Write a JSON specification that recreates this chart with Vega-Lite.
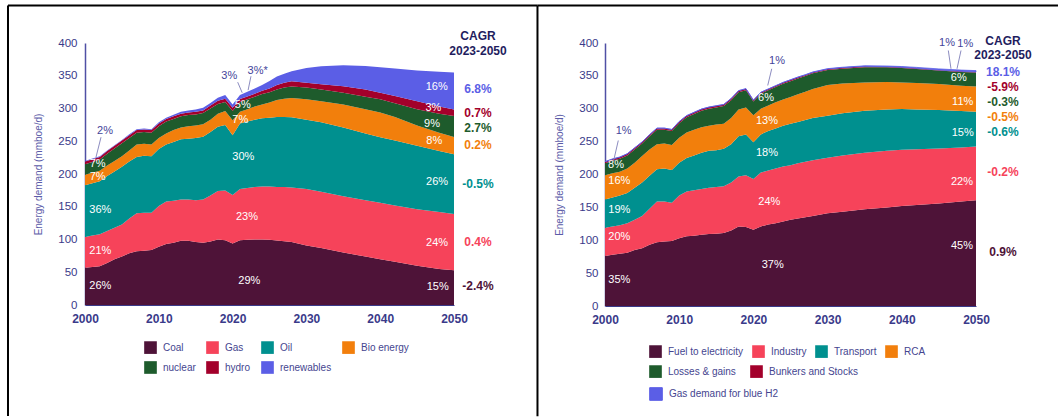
{
"$schema": "https://vega.github.io/schema/vega-lite/v6.json",
"padding": {"left": 6, "top": 4, "right": 0, "bottom": 0},
"background": "white",
"bounds": "flush",
"spacing": 151,
"config": {"font": "Liberation Sans", "view": {"stroke": null}, "axis": {"grid": false, "ticks": false, "tickSize": 0}},
"resolve": {"scale": {"color": "independent", "fill": "independent", "stroke": "independent"}, "legend": {"color": "independent", "fill": "independent", "stroke": "independent"}},
"datasets": {
"right": [
{"t":2000,"k":"Fuel to electricity","v":76},{"t":2001,"k":"Fuel to electricity","v":78},{"t":2002,"k":"Fuel to electricity","v":79.5},{"t":2003,"k":"Fuel to electricity","v":81},{"t":2004,"k":"Fuel to electricity","v":85},{"t":2005,"k":"Fuel to electricity","v":88},{"t":2006,"k":"Fuel to electricity","v":93},{"t":2007,"k":"Fuel to electricity","v":97},{"t":2008,"k":"Fuel to electricity","v":98},{"t":2009,"k":"Fuel to electricity","v":99},{"t":2010,"k":"Fuel to electricity","v":103},{"t":2011,"k":"Fuel to electricity","v":106},{"t":2012,"k":"Fuel to electricity","v":107},{"t":2013,"k":"Fuel to electricity","v":108.5},{"t":2014,"k":"Fuel to electricity","v":109.5},{"t":2015,"k":"Fuel to electricity","v":110},{"t":2016,"k":"Fuel to electricity","v":111},{"t":2017,"k":"Fuel to electricity","v":115},{"t":2018,"k":"Fuel to electricity","v":121},{"t":2019,"k":"Fuel to electricity","v":120},{"t":2020,"k":"Fuel to electricity","v":116},{"t":2021,"k":"Fuel to electricity","v":121},{"t":2022,"k":"Fuel to electricity","v":124},{"t":2023,"k":"Fuel to electricity","v":126},{"t":2024,"k":"Fuel to electricity","v":128.5},{"t":2025,"k":"Fuel to electricity","v":131},{"t":2026,"k":"Fuel to electricity","v":133},{"t":2027,"k":"Fuel to electricity","v":135},{"t":2028,"k":"Fuel to electricity","v":137},{"t":2030,"k":"Fuel to electricity","v":141},{"t":2032,"k":"Fuel to electricity","v":143.5},{"t":2035,"k":"Fuel to electricity","v":147},{"t":2038,"k":"Fuel to electricity","v":150},{"t":2040,"k":"Fuel to electricity","v":152},{"t":2042,"k":"Fuel to electricity","v":153.5},{"t":2045,"k":"Fuel to electricity","v":156},{"t":2048,"k":"Fuel to electricity","v":159},{"t":2050,"k":"Fuel to electricity","v":161},
{"t":2000,"k":"Industry","v":43},{"t":2001,"k":"Industry","v":43},{"t":2002,"k":"Industry","v":43.5},{"t":2003,"k":"Industry","v":45},{"t":2004,"k":"Industry","v":46},{"t":2005,"k":"Industry","v":49},{"t":2006,"k":"Industry","v":55},{"t":2007,"k":"Industry","v":62},{"t":2008,"k":"Industry","v":61},{"t":2009,"k":"Industry","v":58},{"t":2010,"k":"Industry","v":65},{"t":2011,"k":"Industry","v":68},{"t":2012,"k":"Industry","v":69},{"t":2013,"k":"Industry","v":69.5},{"t":2014,"k":"Industry","v":70.5},{"t":2015,"k":"Industry","v":71},{"t":2016,"k":"Industry","v":71},{"t":2017,"k":"Industry","v":73},{"t":2018,"k":"Industry","v":76},{"t":2019,"k":"Industry","v":79},{"t":2020,"k":"Industry","v":77},{"t":2021,"k":"Industry","v":82},{"t":2022,"k":"Industry","v":82},{"t":2023,"k":"Industry","v":83},{"t":2024,"k":"Industry","v":83.5},{"t":2025,"k":"Industry","v":83},{"t":2026,"k":"Industry","v":84},{"t":2027,"k":"Industry","v":84.5},{"t":2028,"k":"Industry","v":84.5},{"t":2030,"k":"Industry","v":84.5},{"t":2032,"k":"Industry","v":85.5},{"t":2035,"k":"Industry","v":86},{"t":2038,"k":"Industry","v":86},{"t":2040,"k":"Industry","v":85.5},{"t":2042,"k":"Industry","v":85},{"t":2045,"k":"Industry","v":83.5},{"t":2048,"k":"Industry","v":82},{"t":2050,"k":"Industry","v":81.5},
{"t":2000,"k":"Transport","v":43},{"t":2001,"k":"Transport","v":44},{"t":2002,"k":"Transport","v":45},{"t":2003,"k":"Transport","v":46},{"t":2004,"k":"Transport","v":49},{"t":2005,"k":"Transport","v":51},{"t":2006,"k":"Transport","v":50},{"t":2007,"k":"Transport","v":49},{"t":2008,"k":"Transport","v":50},{"t":2009,"k":"Transport","v":50},{"t":2010,"k":"Transport","v":50},{"t":2011,"k":"Transport","v":51},{"t":2012,"k":"Transport","v":53},{"t":2013,"k":"Transport","v":55},{"t":2014,"k":"Transport","v":56},{"t":2015,"k":"Transport","v":56},{"t":2016,"k":"Transport","v":57},{"t":2017,"k":"Transport","v":58},{"t":2018,"k":"Transport","v":61},{"t":2019,"k":"Transport","v":62},{"t":2020,"k":"Transport","v":56},{"t":2021,"k":"Transport","v":58},{"t":2022,"k":"Transport","v":60},{"t":2023,"k":"Transport","v":61},{"t":2024,"k":"Transport","v":62},{"t":2025,"k":"Transport","v":63},{"t":2026,"k":"Transport","v":63},{"t":2027,"k":"Transport","v":63.5},{"t":2028,"k":"Transport","v":64.5},{"t":2030,"k":"Transport","v":64},{"t":2032,"k":"Transport","v":64},{"t":2035,"k":"Transport","v":64},{"t":2038,"k":"Transport","v":63},{"t":2040,"k":"Transport","v":62},{"t":2042,"k":"Transport","v":60.5},{"t":2045,"k":"Transport","v":58.5},{"t":2048,"k":"Transport","v":55.5},{"t":2050,"k":"Transport","v":53},
{"t":2000,"k":"RCA","v":37},{"t":2001,"k":"RCA","v":37},{"t":2002,"k":"RCA","v":36},{"t":2003,"k":"RCA","v":37},{"t":2004,"k":"RCA","v":38},{"t":2005,"k":"RCA","v":40},{"t":2006,"k":"RCA","v":40},{"t":2007,"k":"RCA","v":38},{"t":2008,"k":"RCA","v":38},{"t":2009,"k":"RCA","v":38},{"t":2010,"k":"RCA","v":38},{"t":2011,"k":"RCA","v":39},{"t":2012,"k":"RCA","v":39},{"t":2013,"k":"RCA","v":39},{"t":2014,"k":"RCA","v":38},{"t":2015,"k":"RCA","v":39},{"t":2016,"k":"RCA","v":38},{"t":2017,"k":"RCA","v":40},{"t":2018,"k":"RCA","v":41},{"t":2019,"k":"RCA","v":41},{"t":2020,"k":"RCA","v":41},{"t":2021,"k":"RCA","v":39},{"t":2022,"k":"RCA","v":39},{"t":2023,"k":"RCA","v":40},{"t":2024,"k":"RCA","v":40},{"t":2025,"k":"RCA","v":41},{"t":2026,"k":"RCA","v":42},{"t":2027,"k":"RCA","v":43},{"t":2028,"k":"RCA","v":44},{"t":2030,"k":"RCA","v":46.5},{"t":2032,"k":"RCA","v":45.5},{"t":2035,"k":"RCA","v":43},{"t":2038,"k":"RCA","v":41.5},{"t":2040,"k":"RCA","v":40.5},{"t":2042,"k":"RCA","v":40},{"t":2045,"k":"RCA","v":39.5},{"t":2048,"k":"RCA","v":38.5},{"t":2050,"k":"RCA","v":38.5},
{"t":2000,"k":"Losses & gains","v":18},{"t":2001,"k":"Losses & gains","v":19},{"t":2002,"k":"Losses & gains","v":20},{"t":2003,"k":"Losses & gains","v":20},{"t":2004,"k":"Losses & gains","v":20},{"t":2005,"k":"Losses & gains","v":19},{"t":2006,"k":"Losses & gains","v":20},{"t":2007,"k":"Losses & gains","v":22},{"t":2008,"k":"Losses & gains","v":21},{"t":2009,"k":"Losses & gains","v":21},{"t":2010,"k":"Losses & gains","v":22},{"t":2011,"k":"Losses & gains","v":23},{"t":2012,"k":"Losses & gains","v":24},{"t":2013,"k":"Losses & gains","v":25},{"t":2014,"k":"Losses & gains","v":26},{"t":2015,"k":"Losses & gains","v":26},{"t":2016,"k":"Losses & gains","v":27},{"t":2017,"k":"Losses & gains","v":27},{"t":2018,"k":"Losses & gains","v":26},{"t":2019,"k":"Losses & gains","v":26},{"t":2020,"k":"Losses & gains","v":21},{"t":2021,"k":"Losses & gains","v":23},{"t":2022,"k":"Losses & gains","v":23},{"t":2023,"k":"Losses & gains","v":23},{"t":2024,"k":"Losses & gains","v":24},{"t":2025,"k":"Losses & gains","v":24},{"t":2026,"k":"Losses & gains","v":24},{"t":2027,"k":"Losses & gains","v":24},{"t":2028,"k":"Losses & gains","v":24},{"t":2030,"k":"Losses & gains","v":23},{"t":2032,"k":"Losses & gains","v":22.5},{"t":2035,"k":"Losses & gains","v":23},{"t":2038,"k":"Losses & gains","v":22.5},{"t":2040,"k":"Losses & gains","v":22},{"t":2042,"k":"Losses & gains","v":21.5},{"t":2045,"k":"Losses & gains","v":20.5},{"t":2048,"k":"Losses & gains","v":21},{"t":2050,"k":"Losses & gains","v":21},
{"t":2000,"k":"Bunkers and Stocks","v":2.5},{"t":2001,"k":"Bunkers and Stocks","v":2.5},{"t":2002,"k":"Bunkers and Stocks","v":2.5},{"t":2003,"k":"Bunkers and Stocks","v":2.5},{"t":2004,"k":"Bunkers and Stocks","v":2.5},{"t":2005,"k":"Bunkers and Stocks","v":2.5},{"t":2006,"k":"Bunkers and Stocks","v":2.5},{"t":2007,"k":"Bunkers and Stocks","v":2.5},{"t":2008,"k":"Bunkers and Stocks","v":2.5},{"t":2009,"k":"Bunkers and Stocks","v":2.5},{"t":2010,"k":"Bunkers and Stocks","v":2.5},{"t":2011,"k":"Bunkers and Stocks","v":2.5},{"t":2012,"k":"Bunkers and Stocks","v":2.5},{"t":2013,"k":"Bunkers and Stocks","v":2.5},{"t":2014,"k":"Bunkers and Stocks","v":2.5},{"t":2015,"k":"Bunkers and Stocks","v":2.5},{"t":2016,"k":"Bunkers and Stocks","v":2.5},{"t":2017,"k":"Bunkers and Stocks","v":2.5},{"t":2018,"k":"Bunkers and Stocks","v":2.5},{"t":2019,"k":"Bunkers and Stocks","v":2.5},{"t":2020,"k":"Bunkers and Stocks","v":2},{"t":2021,"k":"Bunkers and Stocks","v":2},{"t":2022,"k":"Bunkers and Stocks","v":2},{"t":2023,"k":"Bunkers and Stocks","v":2},{"t":2024,"k":"Bunkers and Stocks","v":2},{"t":2025,"k":"Bunkers and Stocks","v":2},{"t":2026,"k":"Bunkers and Stocks","v":2},{"t":2027,"k":"Bunkers and Stocks","v":1.5},{"t":2028,"k":"Bunkers and Stocks","v":1.5},{"t":2030,"k":"Bunkers and Stocks","v":1.5},{"t":2032,"k":"Bunkers and Stocks","v":1.5},{"t":2035,"k":"Bunkers and Stocks","v":1.5},{"t":2038,"k":"Bunkers and Stocks","v":1},{"t":2040,"k":"Bunkers and Stocks","v":1},{"t":2042,"k":"Bunkers and Stocks","v":1},{"t":2045,"k":"Bunkers and Stocks","v":1},{"t":2048,"k":"Bunkers and Stocks","v":1},{"t":2050,"k":"Bunkers and Stocks","v":1},
{"t":2000,"k":"Gas demand for blue H2","v":0},{"t":2001,"k":"Gas demand for blue H2","v":0},{"t":2002,"k":"Gas demand for blue H2","v":0},{"t":2003,"k":"Gas demand for blue H2","v":0},{"t":2004,"k":"Gas demand for blue H2","v":0},{"t":2005,"k":"Gas demand for blue H2","v":0},{"t":2006,"k":"Gas demand for blue H2","v":0},{"t":2007,"k":"Gas demand for blue H2","v":0},{"t":2008,"k":"Gas demand for blue H2","v":0},{"t":2009,"k":"Gas demand for blue H2","v":0},{"t":2010,"k":"Gas demand for blue H2","v":0},{"t":2011,"k":"Gas demand for blue H2","v":0},{"t":2012,"k":"Gas demand for blue H2","v":0},{"t":2013,"k":"Gas demand for blue H2","v":0},{"t":2014,"k":"Gas demand for blue H2","v":0},{"t":2015,"k":"Gas demand for blue H2","v":0},{"t":2016,"k":"Gas demand for blue H2","v":0},{"t":2017,"k":"Gas demand for blue H2","v":0},{"t":2018,"k":"Gas demand for blue H2","v":0},{"t":2019,"k":"Gas demand for blue H2","v":0},{"t":2020,"k":"Gas demand for blue H2","v":0},{"t":2021,"k":"Gas demand for blue H2","v":0},{"t":2022,"k":"Gas demand for blue H2","v":0},{"t":2023,"k":"Gas demand for blue H2","v":0},{"t":2024,"k":"Gas demand for blue H2","v":0},{"t":2025,"k":"Gas demand for blue H2","v":0.1},{"t":2026,"k":"Gas demand for blue H2","v":0.2},{"t":2027,"k":"Gas demand for blue H2","v":0.3},{"t":2028,"k":"Gas demand for blue H2","v":0.4},{"t":2030,"k":"Gas demand for blue H2","v":0.5},{"t":2032,"k":"Gas demand for blue H2","v":0.6},{"t":2035,"k":"Gas demand for blue H2","v":0.8},{"t":2038,"k":"Gas demand for blue H2","v":1},{"t":2040,"k":"Gas demand for blue H2","v":1.2},{"t":2042,"k":"Gas demand for blue H2","v":1.4},{"t":2045,"k":"Gas demand for blue H2","v":1.6},{"t":2048,"k":"Gas demand for blue H2","v":1.8},{"t":2050,"k":"Gas demand for blue H2","v":2}
],
"rightOrder": [{"k":"Fuel to electricity","i":1},{"k":"Industry","i":2},{"k":"Transport","i":3},{"k":"RCA","i":4},{"k":"Losses & gains","i":5},{"k":"Bunkers and Stocks","i":6},{"k":"Gas demand for blue H2","i":7}]
},
"hconcat": [
{
"width": 369, "height": 262,
"encoding": {
"x": {"field": "t", "type": "quantitative", "scale": {"domain": [2000, 2050], "nice": false, "zero": false}, "axis": {"values": [2000, 2010, 2020, 2030, 2040, 2050], "format": "d", "title": null, "labelFlush": false, "labelFontWeight": "bold", "labelFontSize": 12, "labelColor": "#3A3A8A", "labelPadding": 8, "domainColor": "#3A3A8A", "domainWidth": 1}},
"y": {"field": "v", "type": "quantitative", "scale": {"domain": [0, 400], "nice": false}, "axis": {"values": [0, 50, 100, 150, 200, 250, 300, 350, 400], "title": "Energy demand (mmboe/d)", "titleFontSize": 10, "titleFontWeight": "normal", "titleColor": "#5B5BA8", "titlePadding": 14, "labelFontSize": 11.5, "labelColor": "#3A3A8A", "labelPadding": 8, "domainColor": "#5050A5", "domainWidth": 1.5}}
},
"layer": [
{
"data": {"values": [
{"t":2000,"k":"Coal","v":57},{"t":2001,"k":"Coal","v":58},{"t":2002,"k":"Coal","v":59},{"t":2003,"k":"Coal","v":64},{"t":2004,"k":"Coal","v":70},{"t":2005,"k":"Coal","v":74},{"t":2006,"k":"Coal","v":79},{"t":2007,"k":"Coal","v":82},{"t":2008,"k":"Coal","v":83},{"t":2009,"k":"Coal","v":84},{"t":2010,"k":"Coal","v":89},{"t":2011,"k":"Coal","v":93},{"t":2012,"k":"Coal","v":95},{"t":2013,"k":"Coal","v":98},{"t":2014,"k":"Coal","v":98},{"t":2015,"k":"Coal","v":96},{"t":2016,"k":"Coal","v":95},{"t":2017,"k":"Coal","v":97},{"t":2018,"k":"Coal","v":100},{"t":2019,"k":"Coal","v":99},{"t":2020,"k":"Coal","v":94},{"t":2021,"k":"Coal","v":99},{"t":2022,"k":"Coal","v":99.5},{"t":2023,"k":"Coal","v":100},{"t":2024,"k":"Coal","v":100},{"t":2025,"k":"Coal","v":99.5},{"t":2026,"k":"Coal","v":98.5},{"t":2027,"k":"Coal","v":97.5},{"t":2028,"k":"Coal","v":96},{"t":2030,"k":"Coal","v":91},{"t":2032,"k":"Coal","v":87},{"t":2035,"k":"Coal","v":80},{"t":2038,"k":"Coal","v":74},{"t":2040,"k":"Coal","v":70},{"t":2042,"k":"Coal","v":66},{"t":2045,"k":"Coal","v":60},{"t":2048,"k":"Coal","v":55},{"t":2050,"k":"Coal","v":53},
{"t":2000,"k":"Gas","v":47},{"t":2001,"k":"Gas","v":48},{"t":2002,"k":"Gas","v":49},{"t":2003,"k":"Gas","v":49},{"t":2004,"k":"Gas","v":48},{"t":2005,"k":"Gas","v":49},{"t":2006,"k":"Gas","v":53},{"t":2007,"k":"Gas","v":58},{"t":2008,"k":"Gas","v":58},{"t":2009,"k":"Gas","v":57},{"t":2010,"k":"Gas","v":62},{"t":2011,"k":"Gas","v":65},{"t":2012,"k":"Gas","v":64},{"t":2013,"k":"Gas","v":63},{"t":2014,"k":"Gas","v":63},{"t":2015,"k":"Gas","v":64},{"t":2016,"k":"Gas","v":66},{"t":2017,"k":"Gas","v":70},{"t":2018,"k":"Gas","v":74},{"t":2019,"k":"Gas","v":76},{"t":2020,"k":"Gas","v":74},{"t":2021,"k":"Gas","v":78},{"t":2022,"k":"Gas","v":79},{"t":2023,"k":"Gas","v":80},{"t":2024,"k":"Gas","v":81},{"t":2025,"k":"Gas","v":81.5},{"t":2026,"k":"Gas","v":81.5},{"t":2027,"k":"Gas","v":82.5},{"t":2028,"k":"Gas","v":83.5},{"t":2030,"k":"Gas","v":86},{"t":2032,"k":"Gas","v":86},{"t":2035,"k":"Gas","v":86},{"t":2038,"k":"Gas","v":86},{"t":2040,"k":"Gas","v":86},{"t":2042,"k":"Gas","v":86},{"t":2045,"k":"Gas","v":86},{"t":2048,"k":"Gas","v":87},{"t":2050,"k":"Gas","v":86},
{"t":2000,"k":"Oil","v":79},{"t":2001,"k":"Oil","v":80},{"t":2002,"k":"Oil","v":81},{"t":2003,"k":"Oil","v":84},{"t":2004,"k":"Oil","v":86},{"t":2005,"k":"Oil","v":88},{"t":2006,"k":"Oil","v":87},{"t":2007,"k":"Oil","v":86},{"t":2008,"k":"Oil","v":87},{"t":2009,"k":"Oil","v":86},{"t":2010,"k":"Oil","v":87},{"t":2011,"k":"Oil","v":87},{"t":2012,"k":"Oil","v":90},{"t":2013,"k":"Oil","v":92},{"t":2014,"k":"Oil","v":93},{"t":2015,"k":"Oil","v":95},{"t":2016,"k":"Oil","v":96},{"t":2017,"k":"Oil","v":97},{"t":2018,"k":"Oil","v":98},{"t":2019,"k":"Oil","v":100},{"t":2020,"k":"Oil","v":91},{"t":2021,"k":"Oil","v":100},{"t":2022,"k":"Oil","v":101.5},{"t":2023,"k":"Oil","v":103},{"t":2024,"k":"Oil","v":104},{"t":2025,"k":"Oil","v":105},{"t":2026,"k":"Oil","v":107},{"t":2027,"k":"Oil","v":107},{"t":2028,"k":"Oil","v":107},{"t":2030,"k":"Oil","v":106},{"t":2032,"k":"Oil","v":106},{"t":2035,"k":"Oil","v":105},{"t":2038,"k":"Oil","v":102},{"t":2040,"k":"Oil","v":100},{"t":2042,"k":"Oil","v":99},{"t":2045,"k":"Oil","v":97},{"t":2048,"k":"Oil","v":93},{"t":2050,"k":"Oil","v":91},
{"t":2000,"k":"Bio energy","v":16},{"t":2001,"k":"Bio energy","v":16},{"t":2002,"k":"Bio energy","v":16},{"t":2003,"k":"Bio energy","v":16},{"t":2004,"k":"Bio energy","v":16},{"t":2005,"k":"Bio energy","v":16},{"t":2006,"k":"Bio energy","v":17},{"t":2007,"k":"Bio energy","v":19},{"t":2008,"k":"Bio energy","v":18},{"t":2009,"k":"Bio energy","v":18},{"t":2010,"k":"Bio energy","v":17},{"t":2011,"k":"Bio energy","v":17},{"t":2012,"k":"Bio energy","v":18},{"t":2013,"k":"Bio energy","v":18},{"t":2014,"k":"Bio energy","v":19},{"t":2015,"k":"Bio energy","v":19},{"t":2016,"k":"Bio energy","v":19},{"t":2017,"k":"Bio energy","v":19},{"t":2018,"k":"Bio energy","v":20},{"t":2019,"k":"Bio energy","v":21},{"t":2020,"k":"Bio energy","v":23},{"t":2021,"k":"Bio energy","v":18},{"t":2022,"k":"Bio energy","v":19},{"t":2023,"k":"Bio energy","v":20},{"t":2024,"k":"Bio energy","v":21},{"t":2025,"k":"Bio energy","v":23},{"t":2026,"k":"Bio energy","v":26},{"t":2027,"k":"Bio energy","v":28},{"t":2028,"k":"Bio energy","v":29.5},{"t":2030,"k":"Bio energy","v":31},{"t":2032,"k":"Bio energy","v":32},{"t":2035,"k":"Bio energy","v":35},{"t":2038,"k":"Bio energy","v":37},{"t":2040,"k":"Bio energy","v":38},{"t":2042,"k":"Bio energy","v":36},{"t":2045,"k":"Bio energy","v":31},{"t":2048,"k":"Bio energy","v":28},{"t":2050,"k":"Bio energy","v":26.5},
{"t":2000,"k":"nuclear","v":16},{"t":2001,"k":"nuclear","v":16.5},{"t":2002,"k":"nuclear","v":17},{"t":2003,"k":"nuclear","v":18},{"t":2004,"k":"nuclear","v":19},{"t":2005,"k":"nuclear","v":20},{"t":2006,"k":"nuclear","v":19},{"t":2007,"k":"nuclear","v":18},{"t":2008,"k":"nuclear","v":18},{"t":2009,"k":"nuclear","v":18},{"t":2010,"k":"nuclear","v":18},{"t":2011,"k":"nuclear","v":18},{"t":2012,"k":"nuclear","v":17},{"t":2013,"k":"nuclear","v":17},{"t":2014,"k":"nuclear","v":17},{"t":2015,"k":"nuclear","v":17},{"t":2016,"k":"nuclear","v":17},{"t":2017,"k":"nuclear","v":17},{"t":2018,"k":"nuclear","v":15},{"t":2019,"k":"nuclear","v":14},{"t":2020,"k":"nuclear","v":14},{"t":2021,"k":"nuclear","v":15},{"t":2022,"k":"nuclear","v":15},{"t":2023,"k":"nuclear","v":15},{"t":2024,"k":"nuclear","v":16},{"t":2025,"k":"nuclear","v":16},{"t":2026,"k":"nuclear","v":16},{"t":2027,"k":"nuclear","v":17},{"t":2028,"k":"nuclear","v":17.5},{"t":2030,"k":"nuclear","v":18},{"t":2032,"k":"nuclear","v":18},{"t":2035,"k":"nuclear","v":18},{"t":2038,"k":"nuclear","v":19},{"t":2040,"k":"nuclear","v":20},{"t":2042,"k":"nuclear","v":21},{"t":2045,"k":"nuclear","v":25},{"t":2048,"k":"nuclear","v":29},{"t":2050,"k":"nuclear","v":32},
{"t":2000,"k":"hydro","v":4},{"t":2001,"k":"hydro","v":4},{"t":2002,"k":"hydro","v":4},{"t":2003,"k":"hydro","v":4},{"t":2004,"k":"hydro","v":4},{"t":2005,"k":"hydro","v":4},{"t":2006,"k":"hydro","v":4},{"t":2007,"k":"hydro","v":4},{"t":2008,"k":"hydro","v":4},{"t":2009,"k":"hydro","v":4},{"t":2010,"k":"hydro","v":4},{"t":2011,"k":"hydro","v":4},{"t":2012,"k":"hydro","v":4},{"t":2013,"k":"hydro","v":4},{"t":2014,"k":"hydro","v":4},{"t":2015,"k":"hydro","v":4},{"t":2016,"k":"hydro","v":4},{"t":2017,"k":"hydro","v":4.5},{"t":2018,"k":"hydro","v":5},{"t":2019,"k":"hydro","v":5},{"t":2020,"k":"hydro","v":5},{"t":2021,"k":"hydro","v":4.5},{"t":2022,"k":"hydro","v":4.5},{"t":2023,"k":"hydro","v":4.5},{"t":2024,"k":"hydro","v":5},{"t":2025,"k":"hydro","v":5.5},{"t":2026,"k":"hydro","v":7},{"t":2027,"k":"hydro","v":7.5},{"t":2028,"k":"hydro","v":8},{"t":2030,"k":"hydro","v":7.5},{"t":2032,"k":"hydro","v":8},{"t":2035,"k":"hydro","v":10},{"t":2038,"k":"hydro","v":11},{"t":2040,"k":"hydro","v":10},{"t":2042,"k":"hydro","v":11},{"t":2045,"k":"hydro","v":12},{"t":2048,"k":"hydro","v":11},{"t":2050,"k":"hydro","v":10},
{"t":2000,"k":"renewables","v":1},{"t":2001,"k":"renewables","v":1},{"t":2002,"k":"renewables","v":1},{"t":2003,"k":"renewables","v":1},{"t":2004,"k":"renewables","v":1},{"t":2005,"k":"renewables","v":1},{"t":2006,"k":"renewables","v":1.5},{"t":2007,"k":"renewables","v":1.5},{"t":2008,"k":"renewables","v":1.5},{"t":2009,"k":"renewables","v":1.5},{"t":2010,"k":"renewables","v":2},{"t":2011,"k":"renewables","v":2},{"t":2012,"k":"renewables","v":2.5},{"t":2013,"k":"renewables","v":3},{"t":2014,"k":"renewables","v":3},{"t":2015,"k":"renewables","v":3.5},{"t":2016,"k":"renewables","v":4},{"t":2017,"k":"renewables","v":4},{"t":2018,"k":"renewables","v":4.5},{"t":2019,"k":"renewables","v":5.5},{"t":2020,"k":"renewables","v":5},{"t":2021,"k":"renewables","v":6},{"t":2022,"k":"renewables","v":7},{"t":2023,"k":"renewables","v":8},{"t":2024,"k":"renewables","v":9},{"t":2025,"k":"renewables","v":11.5},{"t":2026,"k":"renewables","v":13},{"t":2027,"k":"renewables","v":13.5},{"t":2028,"k":"renewables","v":15.5},{"t":2030,"k":"renewables","v":22.5},{"t":2032,"k":"renewables","v":27.5},{"t":2035,"k":"renewables","v":32},{"t":2038,"k":"renewables","v":36},{"t":2040,"k":"renewables","v":39},{"t":2042,"k":"renewables","v":42},{"t":2045,"k":"renewables","v":47},{"t":2048,"k":"renewables","v":53},{"t":2050,"k":"renewables","v":56.5}
]},
"transform": [{"lookup": "k", "from": {"data": {"values": [{"k":"Coal","i":1},{"k":"Gas","i":2},{"k":"Oil","i":3},{"k":"Bio energy","i":4},{"k":"nuclear","i":5},{"k":"hydro","i":6},{"k":"renewables","i":7}]}, "key": "k", "fields": ["i"]}}],
"mark": {"type": "area"},
"encoding": {
"color": {"field": "k", "type": "nominal", "scale": {"domain": ["Coal", "Gas", "Oil", "Bio energy", "nuclear", "hydro", "renewables"], "range": ["#4E1338", "#F6435A", "#00908F", "#F27F0C", "#1E5B2C", "#A3002B", "#5B5EE6"]}, "legend": {"orient": "none", "legendX": 59, "legendY": 298, "direction": "horizontal", "columns": 4, "title": null, "symbolType": "square", "symbolSize": 160, "symbolStrokeWidth": 0, "labelFontSize": 10, "labelColor": "#45458F", "columnPadding": 10, "rowPadding": 7, "labelOffset": 6}},
"order": {"field": "i", "type": "quantitative", "sort": "ascending"}
}
},
{
"data": {"values": [{"t":2002.07,"v":29.3,"s":"26%"},{"t":2002.07,"v":83.2,"s":"21%"},{"t":2002.07,"v":145.8,"s":"36%"},{"t":2001.72,"v":195,"s":"7%"},{"t":2001.72,"v":215.6,"s":"7%"},{"t":2022.26,"v":37.4,"s":"29%"},{"t":2021.95,"v":135.1,"s":"23%"},{"t":2021.45,"v":225.6,"s":"30%"},{"t":2021.04,"v":282.7,"s":"7%"},{"t":2021.37,"v":306,"s":"5%"},{"t":2047.66,"v":332.5,"s":"16%"},{"t":2047.2,"v":301,"s":"3%"},{"t":2047.02,"v":276.6,"s":"9%"},{"t":2047.33,"v":251.1,"s":"8%"},{"t":2047.7,"v":188.5,"s":"26%"},{"t":2047.7,"v":94.4,"s":"24%"},{"t":2047.79,"v":28.2,"s":"15%"}]},
"mark": {"type": "text", "fill": "#FFFFFF", "fontSize": 11, "align": "center", "baseline": "middle"},
"encoding": {"text": {"field": "s"}}
},
{
"data": {"values": [{"t":2002.17,"v":256.2,"t2":2001.49,"v2":225.6},{"t":2020.69,"v":340.2,"t2":2021.3,"v2":324},{"t":2022.49,"v":349.3,"t2":2022.1,"v2":328}]},
"mark": {"type": "rule", "stroke": "#8C8CC0", "strokeWidth": 1},
"encoding": {"x2": {"field": "t2"}, "y2": {"field": "v2"}}
},
{
"data": {"values": [{"t":2002.71,"v":266.4,"s":"2%"},{"t":2019.55,"v":349.3,"s":"3%"},{"t":2023.4,"v":358,"s":"3%*"}]},
"mark": {"type": "text", "fill": "#44449A", "fontSize": 11, "align": "center", "baseline": "middle"},
"encoding": {"text": {"field": "s"}}
},
{
"data": {"values": [{"t":2053.25,"v":410.4,"s":"CAGR"},{"t":2053.25,"v":388.5,"s":"2023-2050"}]},
"mark": {"type": "text", "fill": "#1F1D5E", "fontSize": 12, "fontWeight": "bold", "align": "center", "baseline": "middle"},
"encoding": {"text": {"field": "s"}}
},
{
"data": {"values": [{"t":2053.25,"v":330,"s":"6.8%","k":"renewables"},{"t":2053.25,"v":292.8,"s":"0.7%","k":"hydro"},{"t":2053.25,"v":270.5,"s":"2.7%","k":"nuclear"},{"t":2053.25,"v":244.6,"s":"0.2%","k":"Bio energy"},{"t":2053.25,"v":185,"s":"-0.5%","k":"Oil"},{"t":2053.25,"v":95.9,"s":"0.4%","k":"Gas"},{"t":2053.25,"v":29.3,"s":"-2.4%","k":"Coal"}]},
"mark": {"type": "text", "fontSize": 12, "fontWeight": "bold", "align": "center", "baseline": "middle"},
"encoding": {"text": {"field": "s"}, "color": {"field": "k", "type": "nominal", "legend": null}}
},
{
"data": {"values": [{"t":1989.566,"v":457.25,"t2":2061.31,"v2":457.25},{"t":1989.566,"v":457.25,"t2":1989.566,"v2":-169.5}]},
"mark": {"type": "rule", "stroke": "#000000", "strokeWidth": 2},
"encoding": {"x2": {"field": "t2"}, "y2": {"field": "v2"}}
}
]
},
{
"width": 371, "height": 263,
"encoding": {
"x": {"field": "t", "type": "quantitative", "scale": {"domain": [2000, 2050], "nice": false, "zero": false}, "axis": {"values": [2000, 2010, 2020, 2030, 2040, 2050], "format": "d", "title": null, "labelFlush": false, "labelFontWeight": "bold", "labelFontSize": 12, "labelColor": "#3A3A8A", "labelPadding": 8, "domainColor": "#3A3A8A", "domainWidth": 1}},
"y": {"field": "v", "type": "quantitative", "scale": {"domain": [0, 400], "nice": false}, "axis": {"values": [0, 50, 100, 150, 200, 250, 300, 350, 400], "title": "Energy demand (mmboe/d)", "titleFontSize": 10, "titleFontWeight": "normal", "titleColor": "#5B5BA8", "titlePadding": 14, "labelFontSize": 11.5, "labelColor": "#3A3A8A", "labelPadding": 7, "domainColor": "#5050A5", "domainWidth": 1.5}}
},
"layer": [
{
"data": {"name": "right"},
"transform": [{"lookup": "k", "from": {"data": {"name": "rightOrder"}, "key": "k", "fields": ["i"]}}, {"stack": "v", "groupby": ["t"], "sort": [{"field": "i", "order": "ascending"}], "as": ["y0", "y1"]}, {"filter": "datum.i <= 4"}],
"mark": {"type": "area"},
"encoding": {
"y": {"field": "y1", "type": "quantitative", "scale": {"domain": [0, 400], "nice": false}, "axis": {"values": [0, 50, 100, 150, 200, 250, 300, 350, 400], "title": "Energy demand (mmboe/d)", "titleFontSize": 10, "titleFontWeight": "normal", "titleColor": "#5B5BA8", "titlePadding": 14, "labelFontSize": 11.5, "labelColor": "#3A3A8A", "labelPadding": 7, "domainColor": "#5050A5", "domainWidth": 1.5}},
"y2": {"field": "y0"},
"color": {"field": "k", "type": "nominal", "scale": {"domain": ["Fuel to electricity", "Industry", "Transport", "RCA", "Losses & gains", "Bunkers and Stocks", "Gas demand for blue H2"], "range": ["#4E1338", "#F6435A", "#00908F", "#F27F0C", "#1E5B2C", "#A3002B", "#5B5EE6"]}, "legend": {"values": ["Fuel to electricity", "Industry", "Transport", "RCA"], "orient": "none", "legendX": 44, "legendY": 302, "direction": "horizontal", "title": null, "symbolType": "square", "symbolSize": 160, "symbolStrokeWidth": 0, "labelFontSize": 10, "labelColor": "#45458F", "columnPadding": 8, "labelOffset": 6}}
}
},
{
"data": {"name": "right"},
"transform": [{"lookup": "k", "from": {"data": {"name": "rightOrder"}, "key": "k", "fields": ["i"]}}, {"stack": "v", "groupby": ["t"], "sort": [{"field": "i", "order": "ascending"}], "as": ["y0", "y1"]}, {"filter": "datum.i == 5 || datum.i == 6"}],
"mark": {"type": "area"},
"encoding": {
"y": {"field": "y1", "type": "quantitative", "scale": {"domain": [0, 400], "nice": false}, "axis": {"values": [0, 50, 100, 150, 200, 250, 300, 350, 400], "title": "Energy demand (mmboe/d)", "titleFontSize": 10, "titleFontWeight": "normal", "titleColor": "#5B5BA8", "titlePadding": 14, "labelFontSize": 11.5, "labelColor": "#3A3A8A", "labelPadding": 7, "domainColor": "#5050A5", "domainWidth": 1.5}},
"y2": {"field": "y0"},
"fill": {"field": "k", "type": "nominal", "scale": {"domain": ["Losses & gains", "Bunkers and Stocks"], "range": ["#1E5B2C", "#A3002B"]}, "legend": {"orient": "none", "legendX": 44, "legendY": 322, "direction": "horizontal", "title": null, "symbolType": "square", "symbolSize": 160, "symbolStrokeWidth": 0, "labelFontSize": 10, "labelColor": "#45458F", "columnPadding": 14, "labelOffset": 6}}
}
},
{
"data": {"name": "right"},
"transform": [{"lookup": "k", "from": {"data": {"name": "rightOrder"}, "key": "k", "fields": ["i"]}}, {"stack": "v", "groupby": ["t"], "sort": [{"field": "i", "order": "ascending"}], "as": ["y0", "y1"]}, {"filter": "datum.i == 7"}],
"mark": {"type": "area", "fill": "#5B5EE6", "strokeWidth": 0.8},
"encoding": {
"y": {"field": "y1", "type": "quantitative", "scale": {"domain": [0, 400], "nice": false}, "axis": {"values": [0, 50, 100, 150, 200, 250, 300, 350, 400], "title": "Energy demand (mmboe/d)", "titleFontSize": 10, "titleFontWeight": "normal", "titleColor": "#5B5BA8", "titlePadding": 14, "labelFontSize": 11.5, "labelColor": "#3A3A8A", "labelPadding": 7, "domainColor": "#5050A5", "domainWidth": 1.5}},
"y2": {"field": "y0"},
"stroke": {"field": "k", "type": "nominal", "scale": {"domain": ["Gas demand for blue H2"], "range": ["#5B5EE6"]}, "legend": {"orient": "none", "legendX": 44, "legendY": 344, "direction": "horizontal", "title": null, "symbolType": "square", "symbolSize": 160, "symbolStrokeWidth": 1, "labelFontSize": 10, "labelColor": "#45458F", "labelOffset": 6}}
}
},
{
"data": {"values": [{"t":2001.93,"v":39.8,"s":"35%"},{"t":2001.93,"v":104.6,"s":"20%"},{"t":2001.93,"v":146.3,"s":"19%"},{"t":2001.93,"v":189.8,"s":"16%"},{"t":2001.48,"v":213.7,"s":"8%"},{"t":2022.6,"v":61.6,"s":"37%"},{"t":2022.14,"v":158.9,"s":"24%"},{"t":2021.83,"v":233,"s":"18%"},{"t":2021.83,"v":282.1,"s":"13%"},{"t":2021.7,"v":316.7,"s":"6%"},{"t":2047.67,"v":346.5,"s":"6%"},{"t":2048.21,"v":311,"s":"11%"},{"t":2048.21,"v":262.8,"s":"15%"},{"t":2048.11,"v":188.3,"s":"22%"},{"t":2048.11,"v":91,"s":"45%"}]},
"mark": {"type": "text", "fill": "#FFFFFF", "fontSize": 11, "align": "center", "baseline": "middle"},
"encoding": {"text": {"field": "s"}}
},
{
"data": {"values": [{"t":2001.79,"v":251.7,"t2":2001.17,"v2":221.3},{"t":2022.47,"v":360.8,"t2":2021.93,"v2":335.4},{"t":2046.27,"v":388.6,"t2":2046.63,"v2":360.8},{"t":2047.98,"v":388.6,"t2":2047.44,"v2":360.8}]},
"mark": {"type": "rule", "stroke": "#8C8CC0", "strokeWidth": 1},
"encoding": {"x2": {"field": "t2"}, "y2": {"field": "v2"}}
},
{
"data": {"values": [{"t":2002.52,"v":266.9,"s":"1%"},{"t":2023.18,"v":371.9,"s":"1%"},{"t":2046.09,"v":400.3,"s":"1%"},{"t":2048.56,"v":398.8,"s":"1%"}]},
"mark": {"type": "text", "fill": "#44449A", "fontSize": 11, "align": "center", "baseline": "middle"},
"encoding": {"text": {"field": "s"}}
},
{
"data": {"values": [{"t":2053.64,"v":402.7,"s":"CAGR"},{"t":2053.64,"v":382.5,"s":"2023-2050"}]},
"mark": {"type": "text", "fill": "#1F1D5E", "fontSize": 12, "fontWeight": "bold", "align": "center", "baseline": "middle"},
"encoding": {"text": {"field": "s"}}
},
{
"data": {"values": [{"t":2053.64,"v":355.6,"s":"18.1%","k":"Gas demand for blue H2"},{"t":2053.64,"v":332.8,"s":"-5.9%","k":"Bunkers and Stocks"},{"t":2053.64,"v":310,"s":"-0.3%","k":"Losses & gains"},{"t":2053.64,"v":287.1,"s":"-0.5%","k":"RCA"},{"t":2053.64,"v":264.3,"s":"-0.6%","k":"Transport"},{"t":2053.64,"v":203.5,"s":"-0.2%","k":"Industry"},{"t":2053.64,"v":81.8,"s":"0.9%","k":"Fuel to electricity"}]},
"mark": {"type": "text", "fontSize": 12, "fontWeight": "bold", "align": "center", "baseline": "middle"},
"encoding": {"text": {"field": "s"}, "color": {"field": "k", "type": "nominal", "legend": null}}
},
{
"data": {"values": [{"t":1990.9,"v":457.03,"t2":2061.05,"v2":457.03},{"t":1990.9,"v":457.03,"t2":1990.9,"v2":-167.5}]},
"mark": {"type": "rule", "stroke": "#000000", "strokeWidth": 2},
"encoding": {"x2": {"field": "t2"}, "y2": {"field": "v2"}}
}
]
}
]
}
